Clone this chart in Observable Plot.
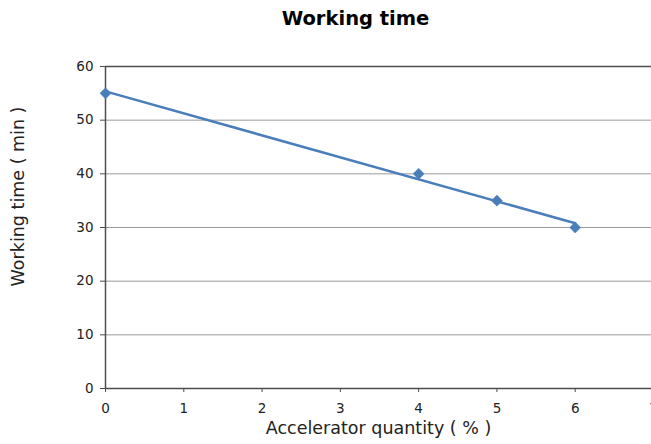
<!DOCTYPE html>
<html>
<head>
<meta charset="utf-8">
<script src="https://cdn.jsdelivr.net/npm/d3@7"></script>
<script src="https://cdn.jsdelivr.net/npm/@observablehq/plot@0.6"></script>
<style>
  html, body { margin: 0; padding: 0; background: #fff; }
  #title { height: 40px; box-sizing: border-box; padding-left: 60px; padding-top: 7px; line-height: 24px;
           text-align: center; font: bold 19.5px "DejaVu Sans", Verdana, sans-serif; color: #000; width: 651px; }
  #chart svg { display: block; overflow: hidden; }
  #chart g[aria-label$="tick label"], #chart g[aria-label$="tick label"] text { font-size: 13.5px !important; }
</style>
</head>
<body>
<div id="title">Working time</div>
<div id="chart"></div>
<script>
const accelerator = [0, 4, 5, 6];
const workingTime = [55, 40, 35, 30];
const xTicks = [0, 1, 2, 3, 4, 5, 6, 7];
const yTicks = [0, 10, 20, 30, 40, 50, 60];
const xLabel = "Accelerator quantity ( % )";
const yLabel = "Working time ( min )";

const data = accelerator.map((x, i) => ({x, y: workingTime[i]}));
const blue = "#4a7ebb";
const font = "DejaVu Sans, Verdana, sans-serif";

const chart = Plot.plot({
  width: 651,
  height: 404,
  marginTop: 26,
  marginBottom: 56,
  marginLeft: 105,
  marginRight: 0,
  style: {fontFamily: font, fontSize: "13.5px", color: "#222", background: "#fff"},
  x: {domain: [0, 7], range: [105, 653]},
  y: {domain: [0, 60]},
  marks: [
    Plot.gridY(yTicks, {stroke: "#9a9a9a", strokeOpacity: 1, strokeWidth: 1}),
    Plot.ruleY([60], {stroke: "#4d4d4d", strokeWidth: 1.5}),
    Plot.axisY(yTicks, {tickSize: 5, tickPadding: 7, stroke: "#4d4d4d", label: null, fontSize: 13.5}),
    Plot.axisX(xTicks, {tickSize: 4, tickPadding: 11, stroke: "#4d4d4d", label: null, fontSize: 13.5, textAnchor: "middle"}),
    Plot.ruleX([0], {stroke: "#4d4d4d", strokeWidth: 1.5}),
    Plot.ruleY([0], {stroke: "#4d4d4d", strokeWidth: 1.5}),
    Plot.linearRegressionY(data, {x: "x", y: "y", ci: 0, stroke: blue, strokeWidth: 2.5}),
    Plot.dot(data, {x: "x", y: "y", symbol: "diamond2", r: 5, fill: blue, stroke: blue, strokeWidth: 0.5}),
    Plot.text([xLabel], {frameAnchor: "bottom", dy: 45, fontSize: 17.5, fill: "#222", textAnchor: "middle", text: d => d}),
    Plot.text([yLabel], {frameAnchor: "left", dx: -87, dy: -31, rotate: -90, fontSize: 17.5, fill: "#222", textAnchor: "middle", text: d => d})
  ]
});
document.getElementById("chart").appendChild(chart);
</script>
</body>
</html>
